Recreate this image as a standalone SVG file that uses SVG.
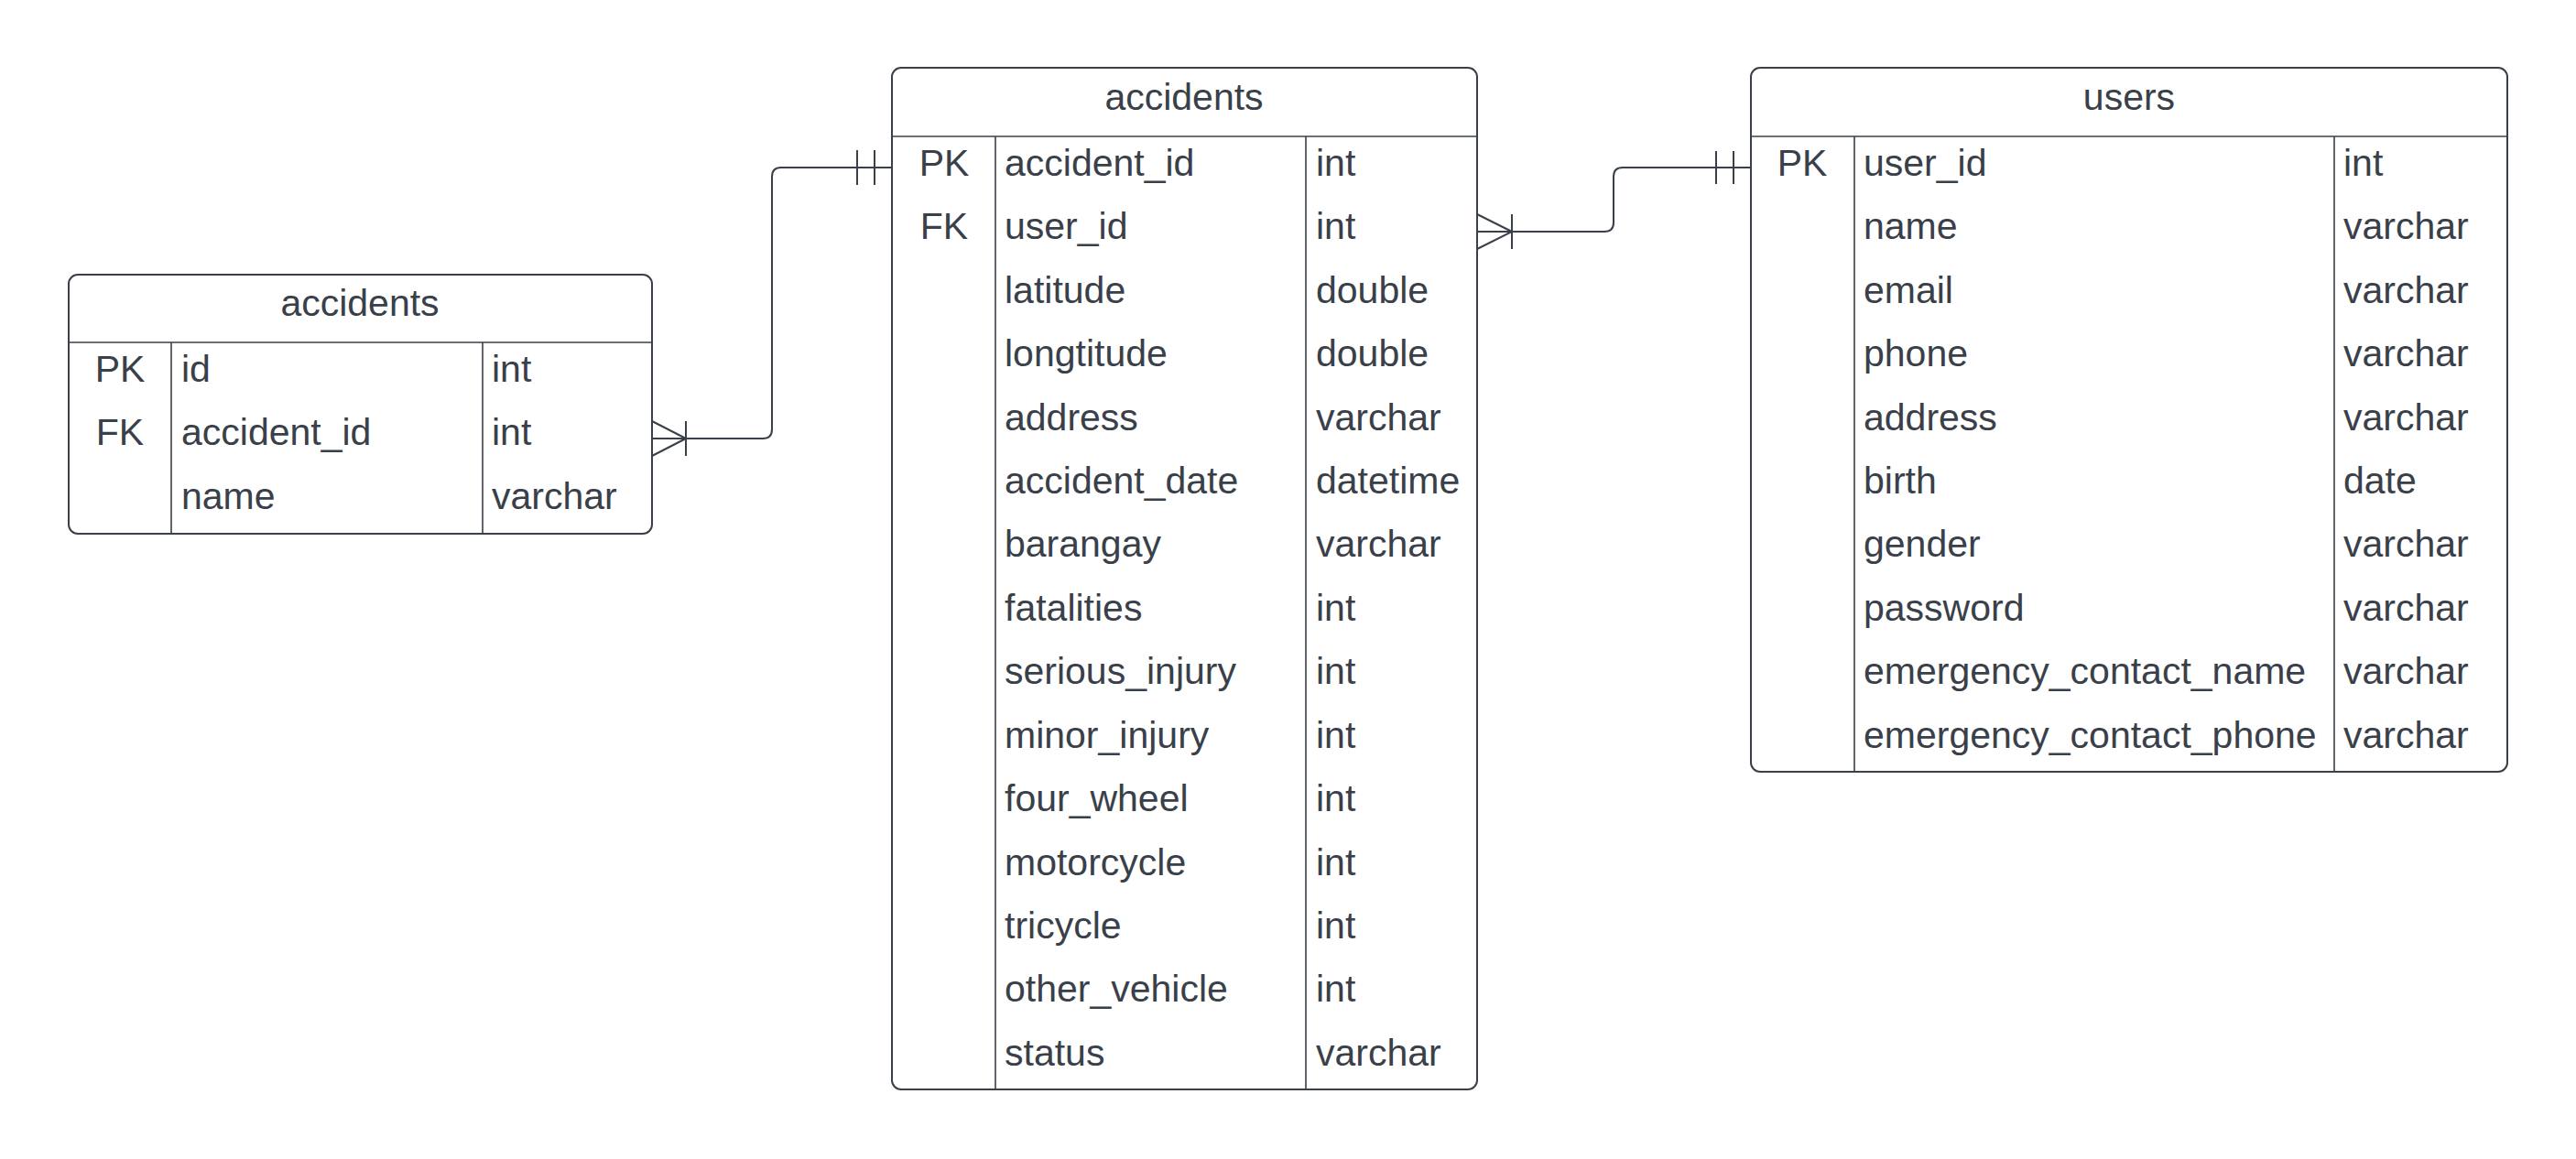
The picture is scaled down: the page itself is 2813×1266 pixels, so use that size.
<svg xmlns="http://www.w3.org/2000/svg" width="2813" height="1266" viewBox="0 0 2813 1266">
<style>
  .box{fill:#ffffff;stroke:#3a4049;stroke-width:2}
  .div{stroke:#3a4049;stroke-width:1.6;fill:none}
  .t{font-family:"Liberation Sans",Arial,sans-serif;font-size:41px;fill:#3a4049}
  .c{text-anchor:middle}
  .ln{stroke:#3a4049;stroke-width:2;fill:none}
</style>
<rect width="2813" height="1266" fill="#ffffff"/>

<g id="connectors">
  <path class="ln" d="M712,479 H833 Q843,479 843,469 V193 Q843,183 853,183 H974"/>
  <path class="ln" d="M749,479 L712,460 M749,479 L712,498 M749,460 V498"/>
  <path class="ln" d="M936,164 V202 M955,164 V202"/>
  <path class="ln" d="M1613,253 H1752 Q1762,253 1762,243 V193 Q1762,183 1772,183 H1912"/>
  <path class="ln" d="M1651,253 L1613,234 M1651,253 L1613,272 M1651,234 V272"/>
  <path class="ln" d="M1874,165 V201 M1893,165 V201"/>
</g>

<g id="accidents_small">
  <rect class="box" x="75" y="300" width="637" height="283" rx="10"/>
  <path class="div" d="M75,374 H712 M187,374 V583 M527,374 V583"/>
  <text class="t c" x="393" y="345">accidents</text>
  <text class="t c" x="131" y="417">PK</text>
  <text class="t" x="198" y="417">id</text>
  <text class="t" x="537" y="417">int</text>
  <text class="t c" x="131" y="486">FK</text>
  <text class="t" x="198" y="486">accident_id</text>
  <text class="t" x="537" y="486">int</text>
  <text class="t" x="198" y="556">name</text>
  <text class="t" x="537" y="556">varchar</text>
</g>

<g id="accidents">
  <rect class="box" x="974" y="74" width="639" height="1116" rx="10"/>
  <path class="div" d="M974,149 H1613 M1087,149 V1190 M1426,149 V1190"/>
  <text class="t c" x="1293" y="120">accidents</text>
  <text class="t c" x="1031" y="192">PK</text>
  <text class="t c" x="1031" y="261">FK</text>
  <text class="t" x="1097" y="192">accident_id</text><text class="t" x="1437" y="192">int</text>
  <text class="t" x="1097" y="261">user_id</text><text class="t" x="1437" y="261">int</text>
  <text class="t" x="1097" y="331">latitude</text><text class="t" x="1437" y="331">double</text>
  <text class="t" x="1097" y="400">longtitude</text><text class="t" x="1437" y="400">double</text>
  <text class="t" x="1097" y="470">address</text><text class="t" x="1437" y="470">varchar</text>
  <text class="t" x="1097" y="539">accident_date</text><text class="t" x="1437" y="539">datetime</text>
  <text class="t" x="1097" y="608">barangay</text><text class="t" x="1437" y="608">varchar</text>
  <text class="t" x="1097" y="678">fatalities</text><text class="t" x="1437" y="678">int</text>
  <text class="t" x="1097" y="747">serious_injury</text><text class="t" x="1437" y="747">int</text>
  <text class="t" x="1097" y="817">minor_injury</text><text class="t" x="1437" y="817">int</text>
  <text class="t" x="1097" y="886">four_wheel</text><text class="t" x="1437" y="886">int</text>
  <text class="t" x="1097" y="956">motorcycle</text><text class="t" x="1437" y="956">int</text>
  <text class="t" x="1097" y="1025">tricycle</text><text class="t" x="1437" y="1025">int</text>
  <text class="t" x="1097" y="1094">other_vehicle</text><text class="t" x="1437" y="1094">int</text>
  <text class="t" x="1097" y="1164">status</text><text class="t" x="1437" y="1164">varchar</text>
</g>

<g id="users">
  <rect class="box" x="1912" y="74" width="826" height="769" rx="10"/>
  <path class="div" d="M1912,149 H2738 M2025,149 V843 M2549,149 V843"/>
  <text class="t c" x="2325" y="120">users</text>
  <text class="t c" x="1968" y="192">PK</text>
  <text class="t" x="2035" y="192">user_id</text><text class="t" x="2559" y="192">int</text>
  <text class="t" x="2035" y="261">name</text><text class="t" x="2559" y="261">varchar</text>
  <text class="t" x="2035" y="331">email</text><text class="t" x="2559" y="331">varchar</text>
  <text class="t" x="2035" y="400">phone</text><text class="t" x="2559" y="400">varchar</text>
  <text class="t" x="2035" y="470">address</text><text class="t" x="2559" y="470">varchar</text>
  <text class="t" x="2035" y="539">birth</text><text class="t" x="2559" y="539">date</text>
  <text class="t" x="2035" y="608">gender</text><text class="t" x="2559" y="608">varchar</text>
  <text class="t" x="2035" y="678">password</text><text class="t" x="2559" y="678">varchar</text>
  <text class="t" x="2035" y="747">emergency_contact_name</text><text class="t" x="2559" y="747">varchar</text>
  <text class="t" x="2035" y="817">emergency_contact_phone</text><text class="t" x="2559" y="817">varchar</text>
</g>
</svg>
